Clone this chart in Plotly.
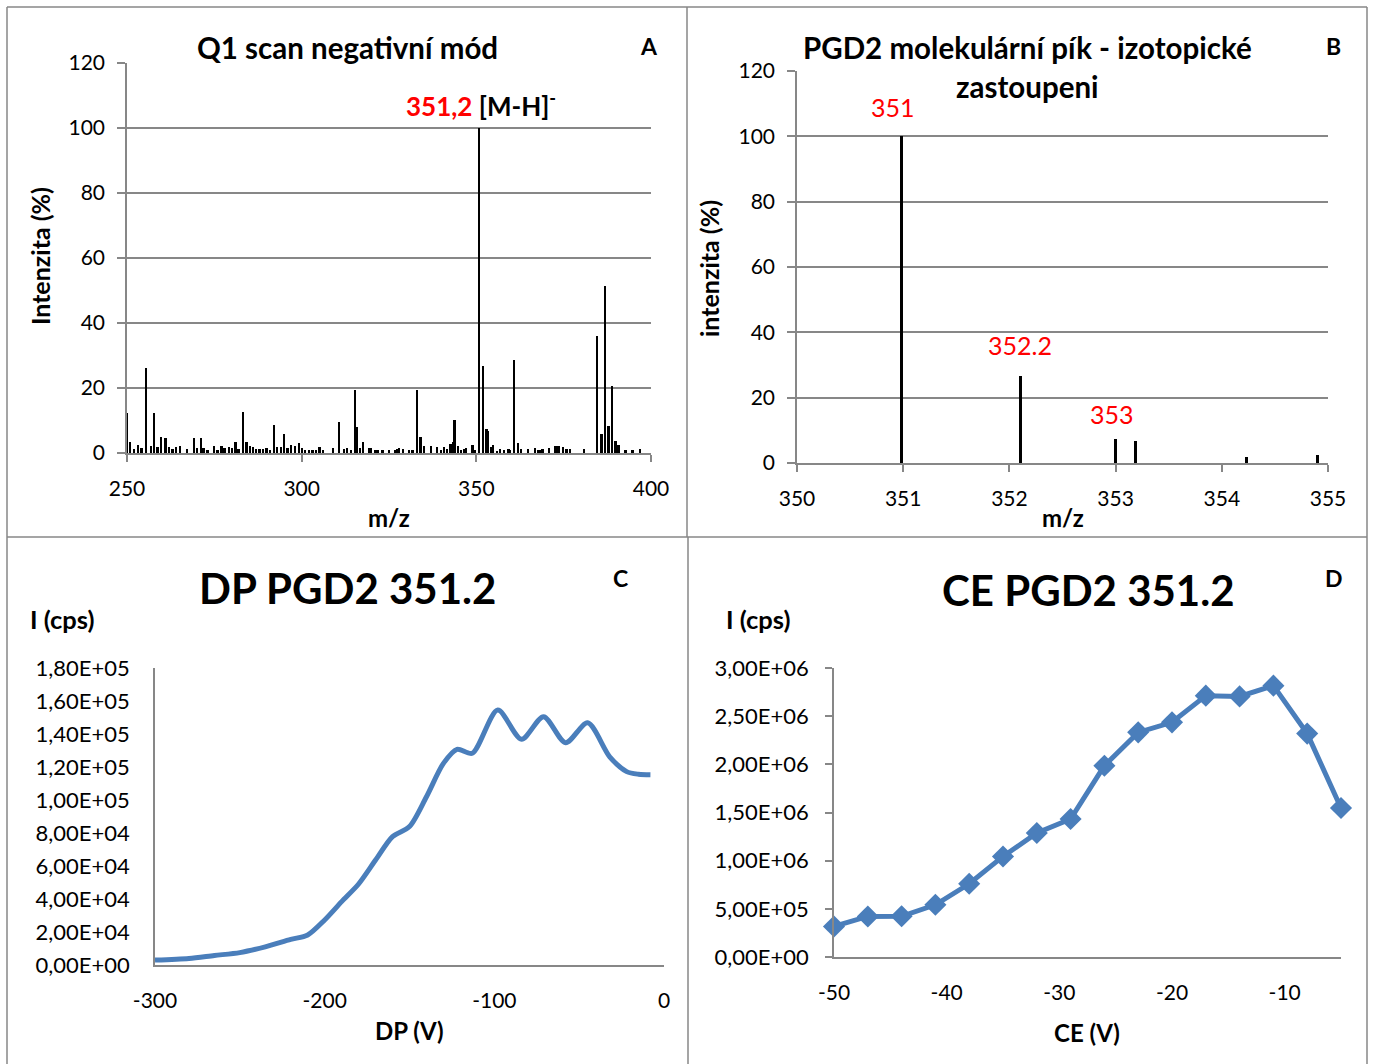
import plotly.graph_objects as go

W, H = 1373, 1064

# --- panel A: Q1 scan, negative mode (m/z, relative intensity %)
q1_mz = [250.1, 251, 252, 253.2, 254.2, 255.5, 256.9, 257.8, 258.8, 259.7,
         261.1, 262, 263.1, 264, 265.2, 267.2, 269.2, 270.2, 271.2, 272,
         273.1, 275, 276, 277.1, 278, 279.2, 280.1, 281.1, 282, 283.2,
         284.3, 285.2, 286.2, 287.1, 288, 289, 290, 290.9, 292.1, 293,
         294.1, 295, 296, 297.1, 298.1, 299.2, 300.2, 301, 302.1, 303.2,
         304.2, 305.2, 306.1, 309, 310.8, 312.1, 313.1, 314.1, 315.3, 315.9,
         316.7, 317.6, 319.3, 319.8, 321, 321.8, 323.2, 325.1, 326.8, 327.4,
         327.9, 329.1, 330.8, 331.8, 333, 334.1, 335.1, 337, 338.8, 340,
         340.8, 341.7, 342.7, 343.3, 343.8, 344.8, 345.7, 346.5, 347.2, 349,
         349.7, 350.9, 352, 353, 353.4, 354.2, 354.9, 356, 356.8, 357.9,
         359.3, 359.8, 360.8, 362.1, 362.8, 364.9, 366.9, 367.7, 368.4, 369,
         370.9, 372.7, 373.6, 374.9, 375.9, 376.8, 380.8, 384.7, 385.9, 386.8,
         387.9, 388.8, 389.9, 390.8, 392.8, 394.8, 396.9]
q1_int = [12.4, 3.4, 1.1, 2.4, 1.4, 26.2, 2.2, 12.2, 1.9, 5.0,
          4.5, 1.7, 1.2, 1.7, 2.2, 1.2, 4.5, 1.4, 4.5, 1.6,
          1.0, 2.2, 0.8, 2.2, 1.6, 1.9, 1.4, 3.3, 1.2, 12.5,
          3.3, 2.2, 1.7, 1.2, 1.2, 1.2, 1.4, 0.8, 8.5, 1.9,
          1.7, 5.7, 1.4, 2.6, 2.3, 3.2, 1.4, 1.0, 0.8, 1.0,
          1.0, 1.9, 0.8, 1.6, 9.6, 1.2, 1.6, 0.8, 19.4, 8.1,
          1.6, 3.5, 1.4, 1.4, 0.8, 0.8, 0.8, 1.0, 0.8, 1.2,
          1.4, 1.2, 0.8, 1.0, 19.4, 5.0, 2.2, 2.2, 1.9, 1.0,
          1.9, 1.3, 2.9, 3.3, 10.2, 2.2, 1.0, 1.2, 1.4, 2.4,
          1.0, 100, 26.7, 7.4, 6.7, 1.7, 2.4, 0.7, 1.3, 1.0,
          1.2, 1.0, 28.7, 3.0, 1.2, 1.3, 1.5, 1.0, 1.0, 1.2,
          1.5, 2.3, 2.3, 2.0, 1.2, 1.2, 1.2, 36.1, 5.8, 51.3,
          8.2, 20.5, 3.6, 2.6, 1.0, 1.0, 1.2]

# --- panel B: isotope pattern of the molecular peak
iso_mz = [350.98, 352.1, 353.0, 353.19, 354.23, 354.9]
iso_int = [100, 26.7, 7.4, 6.6, 1.8, 2.3]
iso_labels = ["351", "352.2", "353"]
iso_label_mz = [350.9, 352.1, 352.97]
iso_label_y = [109, 36, 15]

# --- panel C: declustering potential
dp_v = [-300, -280, -265, -250, -235, -220, -210, -200, -190, -180,
        -170, -160, -150, -140, -130, -122, -113, -98, -84, -71,
        -58, -45, -32, -22, -15, -8]
dp_cps = [3000, 4000, 5800, 7500, 11000, 15500, 18200, 27300, 38400, 49100,
          63600, 77800, 83900, 102000, 122200, 130700, 128300, 154500, 136800, 150500,
          134700, 146800, 126200, 117200, 115600, 115300]

# --- panel D: collision energy
ce_v = [-50, -47, -44, -41, -38, -35, -32, -29, -26, -23, -20, -17, -14, -11, -8, -5]
ce_cps = [3.17e5, 4.21e5, 4.23e5, 5.42e5, 7.60e5, 1.044e6, 1.287e6, 1.432e6,
          1.986e6, 2.332e6, 2.436e6, 2.713e6, 2.705e6, 2.817e6, 2.319e6, 1.547e6]

dp_ticks = [-300, -200, -100, 0]
ce_ticks = [-50, -40, -30, -20, -10]

FONT = "Lato"
GREY = "#878787"
BLUE = "#4A7EBB"


def fx(p):
    return p / W


def fy(p):
    return 1 - p / H


def sci(v):
    return f"{v:.2E}".replace(".", ",")


fig = go.Figure()

fig.add_trace(go.Bar(x=q1_mz, y=q1_int, width=0.5, marker=dict(color="black", line_width=0),
                     xaxis="x", yaxis="y"))
fig.add_trace(go.Bar(x=iso_mz, y=iso_int, width=0.028, marker=dict(color="black", line_width=0),
                     xaxis="x2", yaxis="y2"))
fig.add_trace(go.Scatter(x=dp_v, y=dp_cps, mode="lines", line=dict(color=BLUE, width=5, shape="spline", smoothing=0.8),
                         cliponaxis=False, xaxis="x3", yaxis="y3"))
fig.add_trace(go.Scatter(x=ce_v, y=ce_cps, mode="lines+markers",
                         line=dict(color=BLUE, width=5),
                         marker=dict(symbol="diamond", size=17, color=BLUE),
                         cliponaxis=False, xaxis="x4", yaxis="y4"))

tickfont = dict(family=FONT, size=21, color="black")
tickfont_sci = dict(family=FONT, size=22, color="black")
base = dict(showline=True, linecolor=GREY, linewidth=1.5, tickfont=tickfont, zeroline=False,
            fixedrange=True, automargin=False)

lay = dict(
    template="none",
    width=W, height=H, margin=dict(l=0, r=0, t=0, b=0, pad=0, autoexpand=False), showlegend=False,
    paper_bgcolor="white", plot_bgcolor="white", bargap=0,
    font=dict(family=FONT, color="black"),
    xaxis=dict(base, domain=[fx(127), fx(651)], range=[250, 400], tickvals=[250, 300, 350, 400],
               ticks="outside", ticklen=7, tickcolor=GREY, tickwidth=1.5, showgrid=False,
               anchor="y", ticklabelstandoff=9),
    yaxis=dict(base, domain=[fy(453), fy(63)], range=[0, 120], tickvals=list(range(0, 121, 20)),
               ticks="outside", ticklen=8, tickcolor=GREY, tickwidth=1.5,
               showgrid=True, gridcolor=GREY, gridwidth=1.5, anchor="x", ticklabelstandoff=8),
    xaxis2=dict(base, domain=[fx(797), fx(1328)], range=[350, 355], tickvals=[350, 351, 352, 353, 354, 355],
                ticks="outside", ticklen=7, tickcolor=GREY, tickwidth=1.5, showgrid=False,
                anchor="y2", ticklabelstandoff=9),
    yaxis2=dict(base, domain=[fy(463), fy(71)], range=[0, 120], tickvals=list(range(0, 121, 20)),
                ticks="outside", ticklen=8, tickcolor=GREY, tickwidth=1.5,
                showgrid=True, gridcolor=GREY, gridwidth=1.5, anchor="x2", ticklabelstandoff=8),
    xaxis3=dict(base, domain=[fx(155), fx(664)], range=[-300, 0], tickvals=dp_ticks,
                ticktext=[str(v) for v in dp_ticks],
                ticks="", showgrid=False, anchor="y3", ticklabelstandoff=16),
    yaxis3=dict(base, domain=[fy(965), fy(668)], range=[0, 180000], tickfont=tickfont_sci,
                tickvals=list(range(0, 180001, 20000)),
                ticktext=[sci(v) for v in range(0, 180001, 20000)],
                ticks="", showgrid=False, anchor="x3", ticklabelstandoff=19),
    xaxis4=dict(base, domain=[fx(834), fx(1341)], range=[-50, -5], tickvals=ce_ticks,
                ticktext=[str(v) for v in ce_ticks],
                ticks="", showgrid=False, anchor="y4", ticklabelstandoff=16),
    yaxis4=dict(base, domain=[fy(957), fy(668)], range=[0, 3000000], tickfont=tickfont_sci,
                tickvals=list(range(0, 3000001, 500000)),
                ticktext=[sci(v) for v in range(0, 3000001, 500000)],
                ticks="outside", ticklen=7, tickcolor=GREY, tickwidth=1.5,
                showgrid=False, anchor="x4", ticklabelstandoff=12),
)
fig.update_layout(**lay)


def note(text, x, y, size, color="black", angle=0, xanchor="center"):
    fig.add_annotation(text=text, x=fx(x), y=fy(y), xref="paper", yref="paper",
                       showarrow=False, xanchor=xanchor, yanchor="middle", textangle=angle,
                       font=dict(family=FONT, size=size, color=color))


# panel A texts
note("<b>Q1 scan negativní mód</b>", 347, 47, 29.5)
note("<b>A</b>", 649, 46, 23)
note("<b><span style='color:red'>351,2</span> [M-H]<sup>-</sup></b>", 481, 104, 26)
note("<b>Intenzita (%)</b>", 40, 256, 25, angle=-90)
note("<b>m/z</b>", 389, 517, 24)

# panel B texts
note("<b>PGD2 molekulární pík - izotopické</b>", 1027, 47, 29.5)
note("<b>zastoupeni</b>", 1027, 87, 29.5)
note("<b>B</b>", 1333, 46, 23)
note("<b>intenzita (%)</b>", 709, 268, 25, angle=-90)
note("<b>m/z</b>", 1063, 517, 24)
for lab, mz, yy in zip(iso_labels, iso_label_mz, iso_label_y):
    fig.add_annotation(text=lab, x=mz, y=yy, xref="x2", yref="y2", showarrow=False,
                       font=dict(family=FONT, size=25, color="red"))

# panel C texts
note("<b>DP PGD2 351.2</b>", 347, 588, 42)
note("<b>C</b>", 620, 578, 23)
note("<b>I (cps)</b>", 28, 619, 25.5, xanchor="left")
note("<b>DP (V)</b>", 409, 1030, 24)

# panel D texts
note("<b>CE PGD2 351.2</b>", 1088, 590, 42)
note("<b>D</b>", 1334, 578, 23)
note("<b>I (cps)</b>", 724, 619, 25.5, xanchor="left")
note("<b>CE (V)</b>", 1087, 1032, 24)

# panel frames
frame = [((7, 7), (1367, 7)), ((7, 7), (7, 1064)), ((1367, 7), (1367, 1064)),
         ((687, 7), (687, 537)), ((688, 537), (688, 1064)), ((7, 537), (1367, 537))]
for (x0, y0), (x1, y1) in frame:
    fig.add_shape(type="line", xref="paper", yref="paper", x0=fx(x0), y0=fy(y0), x1=fx(x1), y1=fy(y1),
                  line=dict(color=GREY, width=1.5))

fig.write_html("out.html", config={"displayModeBar": False},
               post_script="document.body.style.margin='0';document.body.style.overflow='hidden';")
